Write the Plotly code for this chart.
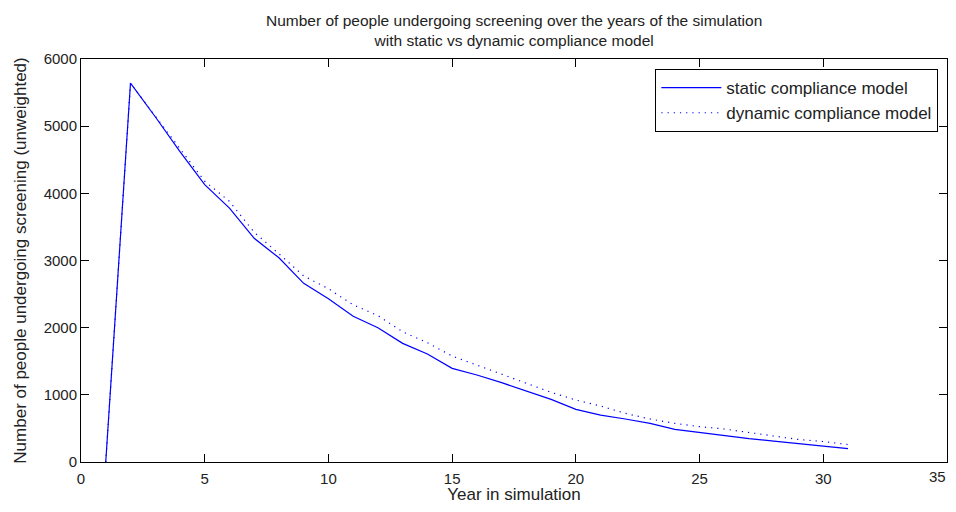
import plotly.graph_objects as go

years = list(range(1, 32))
static_vals = [0, 5640, 5140, 4620, 4130, 3780, 3330, 3040, 2660, 2430,
               2170, 2000, 1766, 1607, 1394, 1295, 1181, 1057, 933, 784,
               699, 640, 575, 486, 437, 396, 347, 312, 273, 238, 198]
dynamic_vals = [0, 5640, 5150, 4660, 4180, 3880, 3420, 3100, 2770, 2580,
                2340, 2180, 1939, 1776, 1577, 1443, 1305, 1171, 1037, 923,
                833, 724, 640, 575, 526, 491, 437, 387, 335, 305, 260]

title_text = ("Number of people undergoing screening over the years of the simulation"
              "<br>with static vs dynamic compliance model")
x_title = "Year in simulation"
y_title = "Number of people undergoing screening (unweighted)"
x_ticks = [0, 5, 10, 15, 20, 25, 30, 35]
x_ticktext = ["0", "5", "10", "15", "20", "25", "30", ""]
y_ticks = [0, 1000, 2000, 3000, 4000, 5000, 6000]

FONT = "Liberation Sans"
TXT = "#222222"

fig = go.Figure()
fig.add_trace(go.Scatter(x=years, y=static_vals, mode="lines",
                         name="static compliance model",
                         line=dict(color="#0000FF", width=1.2)))
fig.add_trace(go.Scatter(x=years, y=dynamic_vals, mode="lines",
                         name="dynamic compliance model",
                         line=dict(color="#0000FF", width=1.2, dash="1.2px,5px")))

axis_common = dict(showline=True, linecolor="black", linewidth=1, mirror="ticks",
                   ticks="inside", ticklen=8, tickcolor="black", showgrid=False,
                   zeroline=False, automargin=False,
                   tickfont=dict(family=FONT, size=15, color=TXT))

# page body has an 8px margin, so the figure is sized 940x496 to fit the 956x512 window
fig.update_layout(
    width=940, height=496,
    paper_bgcolor="white", plot_bgcolor="white",
    margin=dict(l=73, r=1, t=51, b=42, autoexpand=False),
    xaxis=dict(range=[0, 35], tickvals=x_ticks, ticktext=x_ticktext, ticklabelstandoff=3,
               title=dict(text=x_title, font=dict(family=FONT, size=17, color=TXT), standoff=7),
               **axis_common),
    yaxis=dict(range=[0, 6000], tickvals=y_ticks,
               title=dict(text=y_title, font=dict(family=FONT, size=17, color=TXT), standoff=12),
               **axis_common),
    legend=dict(x=0.99, xanchor="right", y=0.975, yanchor="top",
                bordercolor="black", borderwidth=1, bgcolor="white",
                font=dict(family=FONT, size=17, color=TXT),
                itemwidth=60, tracegroupgap=0),
    showlegend=True,
    annotations=[
        dict(text=title_text, x=0.5, xref="paper", y=1, yref="paper",
             xanchor="center", yanchor="bottom", yshift=8, showarrow=False,
             align="center", font=dict(family=FONT, size=15.5, color=TXT)),
        dict(text=str(x_ticks[-1]), x=x_ticks[-1], xref="x", y=0, yref="paper",
             xanchor="right", yanchor="top", xshift=1, yshift=-4, showarrow=False,
             font=dict(family=FONT, size=15, color=TXT)),
    ],
)

fig.write_html("out.html")
